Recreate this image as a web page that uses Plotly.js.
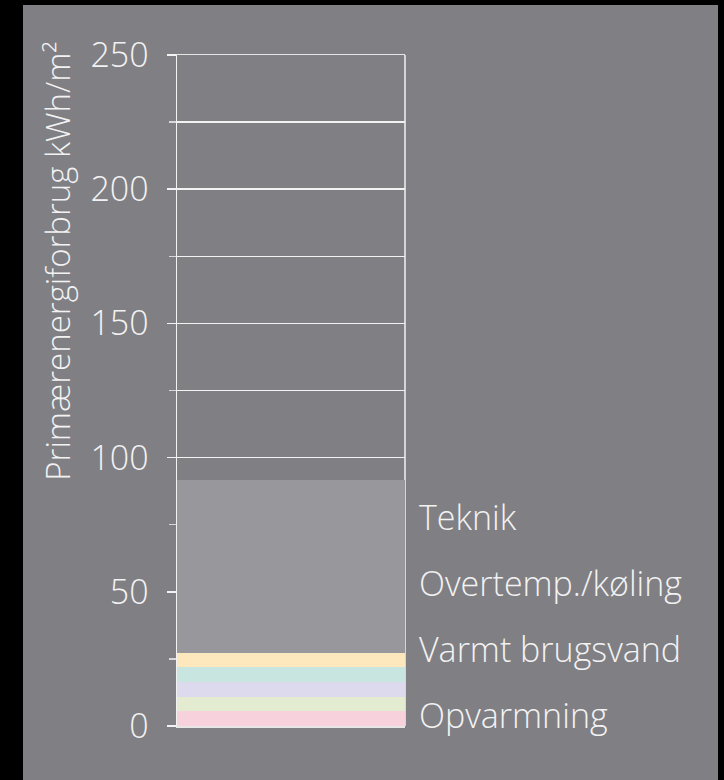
<!DOCTYPE html>
<html>
<head>
<meta charset="utf-8">
<script src="https://cdn.plot.ly/plotly-3.0.1.min.js"></script>
<style>
  html, body { margin: 0; padding: 0; background: #000; width: 724px; height: 780px; overflow: hidden; }
  #chart { position: absolute; left: 23px; top: 5px; width: 695px; height: 775px; }
</style>
</head>
<body>
<div id="chart"></div>
<script>
// Data (stacked from bottom to top)
const segmentNames = ["Opvarmning", "Segment 2", "Segment 3", "Segment 4", "Varmt brugsvand", "Teknik"];
const segmentValues = [5.6, 5.2, 5.7, 5.5, 5.3, 64.4];
const segmentColors = ["#f7d1dc", "#e3ecd0", "#dedaee", "#c9e5e0", "#fde8bd", "#98979c"];
const labelTexts = ["Teknik", "Overtemp./køling", "Varmt brugsvand", "Opvarmning"];
const yTickVals = [0, 50, 100, 150, 200, 250];
const yTickText = ["0", "50", "100", "150", "200", "250"];
const yTitle = "Primærenergiforbrug kWh/m²";

const FONT = "'Open Sans', 'Liberation Sans', Arial, sans-serif";
const TXT = "#f2f2f2";

const traces = segmentValues.map((v, i) => ({
  type: "bar",
  x: ["A"],
  y: [v],
  name: segmentNames[i],
  marker: { color: segmentColors[i], line: { width: 0 } },
  hoverinfo: "skip"
}));

const labelY = [0.311, 0.2127, 0.1144, 0.016];
const annotations = labelTexts.map((t, i) => ({
  text: t, xref: "paper", yref: "paper", x: 1.0526, y: labelY[i],
  xanchor: "left", yanchor: "middle", showarrow: false,
  font: { family: FONT, size: 34, color: TXT, weight: 300 }
}));
annotations.push({
  text: yTitle, xref: "paper", yref: "paper", x: -0.525, y: 1.0224,
  xanchor: "center", yanchor: "top", textangle: -90, showarrow: false,
  font: { family: FONT, size: 33, color: TXT, weight: 300 }
});

const layout = {
  width: 695, height: 775,
  margin: { l: 154, r: 313, t: 50, b: 54 },
  paper_bgcolor: "#807f84",
  plot_bgcolor: "#807f84",
  barmode: "stack",
  bargap: 0,
  showlegend: false,
  xaxis: {
    showticklabels: false, ticks: "", showgrid: false, zeroline: false,
    showline: true, mirror: true, linecolor: "#e6e6e6", linewidth: 1.5,
    fixedrange: true
  },
  yaxis: {
    range: [0, 250], tickvals: yTickVals, ticktext: yTickText,
    ticks: "outside", ticklen: 9, tickwidth: 1.5, tickcolor: "#f2f2f2",
    showgrid: true, gridcolor: "#f2f2f2", gridwidth: 1.5,
    zeroline: false, showline: true, linecolor: "#f2f2f2", linewidth: 1.5,
    mirror: false, ticklabelstandoff: 11,
    tickfont: { family: FONT, size: 34, color: TXT, weight: 300 },
    minor: { dtick: 25, tick0: 0, ticks: "outside", ticklen: 7, tickwidth: 1.5, tickcolor: "#d8d8d8",
             showgrid: true, gridcolor: "#f2f2f2", gridwidth: 1.5 },
    fixedrange: true
  },
  shapes: [{
    type: "line", xref: "paper", yref: "paper", x0: 1, x1: 1, y0: 0, y1: 1,
    line: { color: "#f2f2f2", width: 1.5 }, layer: "below"
  }],
  annotations: annotations
};

Plotly.newPlot("chart", traces, layout, { displayModeBar: false, staticPlot: true });
</script>
</body>
</html>
